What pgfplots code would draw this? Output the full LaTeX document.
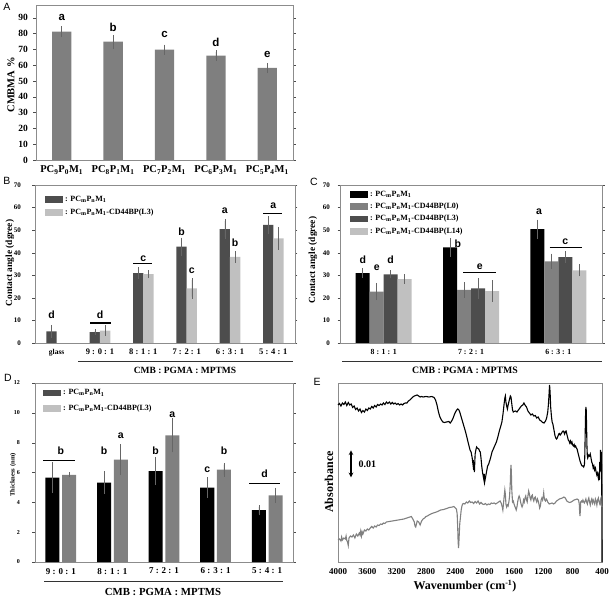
\documentclass[border=0pt]{standalone}
\usepackage{fontspec}
\setmainfont{Liberation Serif}
\newfontfamily\arial{Liberation Sans}
\usepackage{pgfplots}
\pgfplotsset{compat=1.18}

\definecolor{barA}{HTML}{7F7F7F}
\definecolor{dkg}{HTML}{4D4D4D}
\definecolor{ltg}{HTML}{C0C0C0}
\definecolor{mdg}{HTML}{808080}
\definecolor{frame}{HTML}{8C8C8C}

\newcommand{\fs}[1]{\fontsize{#1}{#1}\selectfont}
\newcommand{\pcmn}{PC\textsubscript{m}P\textsubscript{n}M\textsubscript{1}}

\pgfplotsset{
  panel/.style={
    scale only axis, anchor=south west, clip=false,
    axis line style={frame},
    ymin=0,
    tick align=outside, major tick length=2.5pt,
    ytick style={black!70},
    xtick style={draw=none},
    /pgf/number format/assume math mode=true,
    error bars/y dir=both, error bars/y explicit,
    error bars/error bar style={black!60, line width=0.6pt},
    error bars/error mark options={black!60, mark size=1.8pt, line width=0.6pt},
    legend cell align=left,
  },
  sw/.style={legend image code/.code={\fill[##1] (0pt,-3.4pt) rectangle (18pt,3.4pt);}},
}
\tikzset{
  ltr/.style={font=\arial\bfseries\fs{10.5}, anchor=base, inner sep=0pt},
  plab/.style={font=\arial\fs{10.5}, inner sep=0pt},
}

\begin{document}
\begin{tikzpicture}
\path[use as bounding box] (0pt,0pt) rectangle (612pt,599pt);

% ---------------- A: CMBMA content ----------------
\begin{axis}[panel, at={(36pt,439pt)}, width=257pt, height=155pt,
  ymax=98, ytick={0,10,...,90},
  xmin=-0.5, xmax=4.5, xtick={0,...,4},
  xticklabels={PC\textsubscript{9}P\textsubscript{0}M\textsubscript{1},
               PC\textsubscript{8}P\textsubscript{1}M\textsubscript{1},
               PC\textsubscript{7}P\textsubscript{2}M\textsubscript{1},
               PC\textsubscript{6}P\textsubscript{3}M\textsubscript{1},
               PC\textsubscript{5}P\textsubscript{4}M\textsubscript{1}},
  yticklabel style={font=\bfseries\fs{9.5}, xshift=-2pt},
  xticklabel style={font=\bfseries\fs{10.5}},
  ybar, bar width=19.3pt]
\addplot[fill=barA, draw=none] coordinates {
  (0,81.2) +- (0,2.3)
  (1,74.8) +- (0,3.2)
  (2,69.8) +- (0,2.0)
  (3,66.0) +- (0,2.2)
  (4,58.2) +- (0,2.1)
};
\node[ltr, font=\arial\bfseries\fs{11.5}] at (axis cs:0,88.0) {a};
\node[ltr, font=\arial\bfseries\fs{11.5}] at (axis cs:1,81.5) {b};
\node[ltr, font=\arial\bfseries\fs{11.5}] at (axis cs:2,77.4) {c};
\node[ltr, font=\arial\bfseries\fs{11.5}] at (axis cs:3,71.9) {d};
\node[ltr, font=\arial\bfseries\fs{11.5}] at (axis cs:4,64.8) {e};
\end{axis}

% ---------------- B: contact angle, two coatings ----------------
\begin{axis}[panel, at={(35pt,256pt)}, width=260pt, height=158pt,
  ymax=70, ytick={0,10,...,70},
  xmin=-0.5, xmax=5.5, xtick={0,...,5},
  xticklabels={{\fs{7.5}glass}, 9 : 0 : 1, 8 : 1 : 1, 7 : 2 : 1, 6 : 3 : 1, 5 : 4 : 1},
  yticklabel style={font=\bfseries\fs{7}, xshift=-8pt},
  xticklabel style={font=\bfseries\fs{8.5}},
  ybar, bar width=10.3pt,
  legend style={at={(axis description cs:0.038,0.945)}, anchor=north west,
    draw=none, fill=none, inner sep=0pt, font=\bfseries\fs{8},
    row sep=2.2pt, /tikz/every even column/.append style={column sep=1pt}}]
\addplot[fill=dkg, draw=none, bar shift=-5.15pt, sw] coordinates {
  (0,5.2) +- (0,2.0)
  (1,4.8) +- (0,0.5)
  (2,31.0) +- (0,1.8)
  (3,42.7) +- (0,3.2)
  (4,50.5) +- (0,3.5)
  (5,52.3) +- (0,3.0)
};
\addlegendentry{: \pcmn}
\addplot[fill=ltg, draw=none, bar shift=5.15pt, sw] coordinates {
  (1,5.5) +- (0,1.5)
  (2,30.5) +- (0,1.0)
  (3,24.2) +- (0,3.7)
  (4,38.2) +- (0,1.8)
  (5,46.4) +- (0,4.3)
};
\addlegendentry{: \pcmn-CD44BP(L3)}
\node[ltr] at (axis cs:-0.12,10.9) {d};
\node[ltr] at (axis cs:1,11.0) {d};
\draw[black, line width=1.2pt] (axis cs:0.77,8.9) -- (axis cs:1.25,8.9);
\node[ltr] at (axis cs:2,36.3) {c};
\draw[black, line width=1.2pt] (axis cs:1.77,35.3) -- (axis cs:2.19,35.3);
\node[ltr] at (axis cs:2.88,47.8) {b};
\node[ltr] at (axis cs:3.12,30.9) {c};
\node[ltr] at (axis cs:3.88,57.2) {a};
\node[ltr] at (axis cs:4.12,42.7) {b};
\node[ltr] at (axis cs:5,59.7) {a};
\draw[black, line width=1.2pt] (axis cs:4.77,57.5) -- (axis cs:5.19,57.5);
\end{axis}

% ---------------- C: contact angle, four coatings ----------------
\begin{axis}[panel, at={(340pt,256pt)}, width=262pt, height=158pt,
  ymax=70, ytick={0,10,...,70},
  xmin=-0.5, xmax=2.5, xtick={0,1,2},
  xticklabels={8 : 1 : 1, 7 : 2 : 1, 6 : 3 : 1},
  yticklabel style={font=\bfseries\fs{7}, xshift=-4pt},
  xticklabel style={font=\bfseries\fs{7.8}},
  ybar, bar width=14pt,
  legend style={at={(axis description cs:0.038,0.975)}, anchor=north west,
    draw=none, fill=none, inner sep=0pt, font=\bfseries\fs{8},
    row sep=1.2pt, /tikz/every even column/.append style={column sep=1pt}}]
\addplot[fill=black, draw=none, bar shift=-21pt, sw] coordinates {
  (0,31.0) +- (0,1.5)
  (1,42.4) +- (0,3.3)
  (2,50.4) +- (0,3.5)
};
\addlegendentry{: \pcmn}
\addplot[fill=mdg, draw=none, bar shift=-7pt, sw] coordinates {
  (0,22.8) +- (0,3.0)
  (1,23.5) +- (0,2.6)
  (2,36.2) +- (0,2.6)
};
\addlegendentry{: \pcmn-CD44BP(L0)}
\addplot[fill=dkg, draw=none, bar shift=7pt, sw] coordinates {
  (0,30.4) +- (0,1.0)
  (1,24.2) +- (0,3.7)
  (2,38.0) +- (0,1.8)
};
\addlegendentry{: \pcmn-CD44BP(L3)}
\addplot[fill=ltg, draw=none, bar shift=21pt, sw] coordinates {
  (0,28.3) +- (0,1.3)
  (1,23.0) +- (0,4.0)
  (2,32.2) +- (0,1.9)
};
\addlegendentry{: \pcmn-CD44BP(L14)}
\node[ltr] at (axis cs:-0.24,35.3) {d};
\node[ltr] at (axis cs:-0.08,32.3) {e};
\node[ltr] at (axis cs:0.08,35.3) {d};
\node[ltr] at (axis cs:0.85,42.5) {b};
\node[ltr] at (axis cs:1.10,32.6) {e};
\draw[black, line width=1.2pt] (axis cs:0.91,31.3) -- (axis cs:1.29,31.3);
\node[ltr] at (axis cs:1.78,57.0) {a};
\node[ltr] at (axis cs:2.08,43.8) {c};
\draw[black, line width=1.2pt] (axis cs:1.90,42.4) -- (axis cs:2.27,42.4);
\end{axis}

% ---------------- D: film thickness ----------------
\begin{axis}[panel, at={(35pt,37pt)}, width=258pt, height=179pt,
  ymax=12, ytick={0,2,...,12},
  xmin=-0.5, xmax=4.5, xtick={0,...,4},
  xticklabels={9 : 0 : 1, 8 : 1 : 1, 7 : 2 : 1, 6 : 3 : 1, 5 : 4 : 1},
  yticklabel style={font=\bfseries\fs{6}, xshift=-9pt},
  xticklabel style={font=\bfseries\fs{9}},
  ybar, bar width=14pt,
  legend style={at={(axis description cs:0.031,0.975)}, anchor=north west,
    draw=none, fill=none, inner sep=0pt, font=\bfseries\fs{8},
    row sep=4.5pt, /tikz/every even column/.append style={column sep=1pt}}]
\addlegendimage{fill=dkg, draw=none, sw}
\addlegendentry{: \pcmn}
\addlegendimage{fill=ltg, draw=none, sw}
\addlegendentry{: \pcmn-CD44BP(L3)}
\addplot[fill=black, draw=none, bar shift=-8.35pt, forget plot] coordinates {
  (0,5.66) +- (0,0.93)
  (1,5.32) +- (0,0.65)
  (2,6.10) +- (0,0.83)
  (3,4.99) +- (0,0.56)
  (4,3.47) +- (0,0.22)
};
\addplot[fill=mdg, draw=none, bar shift=8.35pt, forget plot] coordinates {
  (0,5.84) +- (0,0.05)
  (1,6.86) +- (0,0.92)
  (2,8.49) +- (0,1.02)
  (3,6.19) +- (0,0.34)
  (4,4.47) +- (0,0.38)
};
\node[ltr] at (axis cs:0,7.22) {b};
\draw[black, line width=1.2pt] (axis cs:-0.34,6.82) -- (axis cs:0.28,6.82);
\node[ltr] at (axis cs:0.838,7.22) {b};
\node[ltr] at (axis cs:1.162,8.27) {a};
\node[ltr] at (axis cs:1.838,7.22) {b};
\node[ltr] at (axis cs:2.162,9.72) {a};
\node[ltr] at (axis cs:2.838,6.03) {c};
\node[ltr] at (axis cs:3.162,7.22) {b};
\node[ltr] at (axis cs:3.95,5.66) {d};
\draw[black, line width=1.2pt] (axis cs:3.65,5.25) -- (axis cs:4.25,5.25);
\end{axis}

% ---------------- E: FTIR spectra ----------------
\begin{axis}[panel, at={(338pt,37pt)}, width=264pt, height=179pt,
  x dir=reverse, xmin=400, xmax=4000, ymin=0, ymax=179,
  xtick={400,800,...,4000}, ytick=\empty,
  xticklabel style={font=\bfseries\fs{9}},
  /pgf/number format/.cd, 1000 sep={}]
\addplot[black, line width=1.1pt, mark=none] coordinates {
(4000,157) (3980,158.5) (3960,156) (3940,159) (3920,157.5) (3900,160) (3880,156.5)
(3860,159.5) (3840,157) (3820,158) (3800,154.5) (3780,156) (3760,152.5) (3740,154)
(3720,151) (3700,153) (3680,149.5) (3660,151.5) (3640,150) (3620,153) (3600,151.5)
(3580,154) (3560,153) (3540,155.5) (3520,154) (3500,156.5) (3480,155) (3460,157.5)
(3440,156.5) (3420,158) (3400,157) (3380,159) (3360,157.5) (3340,160) (3320,158.5)
(3300,160) (3280,158) (3260,159.5) (3240,158) (3220,159) (3200,157.5) (3180,158.5)
(3160,157) (3140,158) (3120,157) (3100,158.5) (3080,159) (3060,159) (3040,161)
(3020,162) (3000,163.5) (2980,165) (2960,166) (2940,166.5) (2920,167) (2900,166)
(2880,165) (2860,165.5) (2840,165) (2800,165.5) (2760,165) (2720,165.5) (2690,164.5)
(2670,162) (2650,157) (2630,150) (2610,145) (2590,142) (2570,140) (2550,139.5)
(2520,140) (2490,140.5) (2470,139) (2450,141) (2430,144) (2410,148) (2390,151)
(2370,153) (2355,152.5) (2340,150) (2320,145) (2300,140) (2280,135) (2260,130)
(2240,124) (2220,118) (2200,112) (2185,110) (2170,104) (2160,98) (2155,102)
(2150,92) (2145,100) (2140,90) (2130,108) (2120,112) (2110,115) (2100,114)
(2080,113) (2070,111) (2060,110) (2050,104) (2040,96) (2030,90) (2020,86)
(2010,82) (2005,88) (2000,80) (1990,84) (1980,88) (1970,92) (1960,96) (1945,98)
(1920,104) (1900,110) (1870,115) (1840,120) (1820,125) (1800,131) (1780,136)
(1765,140) (1750,148) (1735,158) (1725,164) (1718,166) (1710,160) (1700,156)
(1690,153) (1680,157) (1670,160) (1660,163) (1650,166) (1641,165) (1630,158)
(1620,152) (1610,150) (1600,150.5) (1580,151) (1560,150) (1540,152) (1520,154)
(1500,156) (1480,157) (1465,159) (1450,157) (1430,155) (1410,151) (1390,149)
(1370,147) (1350,148) (1330,146) (1310,146.5) (1290,144) (1270,145) (1250,142)
(1230,141) (1210,139.5) (1190,139) (1170,141) (1155,144) (1140,150) (1130,158)
(1122,168) (1115,177) (1108,170) (1100,155) (1090,146) (1080,140) (1070,138)
(1060,134) (1050,130) (1040,126) (1030,124) (1020,123) (1010,124) (1000,126)
(990,128) (980,128.5) (970,127) (960,128) (950,129) (940,130.5) (930,131)
(920,130) (910,128) (900,130.5) (890,131) (880,128) (870,125) (860,122) (850,121)
(840,119) (830,121) (820,118.5) (810,120) (800,117) (790,116) (780,117.5)
(770,115) (760,116) (750,114) (740,113) (730,110) (720,107) (710,104) (700,101)
(690,99) (680,97) (670,96) (660,96) (650,95) (640,97) (635,105) (630,125)
(625,145) (620,155) (615,152) (610,135) (605,115) (600,106) (595,104) (590,105)
(580,107) (570,106) (560,108) (550,104) (540,100) (530,98) (520,94) (510,96)
(500,92) (490,94) (480,90) (470,87) (460,89) (450,84) (440,88) (435,82)
(430,100) (425,90) (420,112) (415,95) (410,110) (405,85) (402,60) (400,0)
};
\addplot[mdg, line width=1.1pt, mark=none] coordinates {
(4000,22) (3980,23) (3960,21) (3950,25) (3940,22) (3920,24) (3900,23) (3890,26)
(3880,21.5) (3870,20) (3860,16.5) (3850,24) (3830,26) (3810,25) (3790,27)
(3770,24) (3750,28) (3730,26) (3710,29) (3700,27) (3690,31) (3680,26) (3670,30)
(3660,28) (3640,32) (3620,31) (3600,33) (3580,32) (3560,34) (3540,35.5)
(3520,34) (3500,36) (3480,35) (3460,37) (3440,36.5) (3420,38) (3400,37.5)
(3380,39) (3360,38.5) (3340,40) (3300,40.5) (3260,41) (3220,41.5) (3180,42)
(3140,42.5) (3100,43) (3060,44) (3020,45) (3000,45.5) (2980,43) (2960,40)
(2950,36) (2940,35) (2930,38) (2920,41) (2900,40) (2880,37) (2870,39) (2860,41)
(2840,43) (2820,44) (2800,45.5) (2780,46) (2760,47) (2720,48.5) (2680,49.5)
(2640,50.5) (2600,52) (2560,52.5) (2520,53.5) (2480,54.5) (2440,55) (2420,55.5)
(2400,54) (2385,53) (2375,48) (2368,35) (2362,20) (2356,14) (2350,22) (2345,30)
(2340,38) (2330,45) (2320,52) (2310,56) (2300,58) (2290,58.5) (2270,58)
(2250,60) (2230,59) (2210,61) (2190,59.5) (2170,60) (2150,58.5) (2130,60.5)
(2110,59) (2090,61) (2070,58) (2050,59.5) (2030,58) (2010,57.5) (1990,58.5)
(1970,57) (1950,58) (1930,57.5) (1910,59) (1890,58.5) (1870,59) (1850,58)
(1830,59) (1810,60) (1790,61) (1775,59) (1760,55) (1752,52) (1745,57) (1735,65)
(1725,72) (1718,68) (1710,58) (1700,55) (1690,57) (1680,56) (1670,60) (1660,66)
(1650,80) (1645,92) (1641,97) (1636,90) (1630,72) (1620,60) (1610,61) (1600,58)
(1590,56) (1580,54) (1570,52) (1560,55) (1550,60) (1540,64) (1530,66) (1520,64)
(1510,60) (1500,57) (1490,55) (1480,57) (1470,62) (1460,60) (1450,64) (1440,66)
(1430,62) (1420,60) (1410,66) (1400,71) (1390,68) (1380,64) (1370,62) (1360,66)
(1350,67) (1340,63) (1330,61) (1320,64) (1310,65) (1300,62) (1290,60) (1280,63)
(1270,61) (1260,58) (1250,54) (1240,56) (1230,62) (1220,64) (1210,62) (1200,66)
(1195,69) (1190,65) (1180,62) (1170,61) (1160,63) (1150,62) (1140,60) (1120,58)
(1100,58.5) (1080,59) (1060,58) (1040,59) (1020,61) (1000,62) (980,63)
(960,63.5) (940,64) (920,65) (900,64) (880,61) (860,60) (840,59.5) (820,60)
(800,61) (780,62) (760,62.5) (740,63) (720,62) (710,58) (705,50) (700,46)
(695,52) (690,60) (680,61) (670,60) (660,62) (650,60) (640,59) (630,61) (620,63)
(610,60) (600,58) (590,62) (580,64) (570,60) (560,57) (550,61) (540,63) (530,59)
(520,62) (510,60) (500,58) (490,63) (480,61) (470,57) (460,62) (450,64) (440,60)
(430,58) (420,62) (410,57) (400,55)
};
% scale bar: 0.01 absorbance = 27 axis units
\draw[<->, >=stealth, line width=1.1pt] (axis cs:3823,84.7) -- (axis cs:3823,111.7);
\node[font=\bfseries\fs{10}, anchor=west, inner sep=0pt] at (axis cs:3720,98.2) {0.01};
\end{axis}

% axis titles and group labels
\node[rotate=90, font=\bfseries\fs{10.5}] at (11pt,514pt) {CMBMA \%};
\node[rotate=90, font=\bfseries\fs{9.4}] at (10pt,336pt) {Contact angle (dgree)};
\node[rotate=90, font=\bfseries\fs{9.4}] at (313pt,339pt) {Contact angle (dgree)};
\node[rotate=90, font=\bfseries\fs{6.6}] at (13pt,124pt) {Thickness (nm)};
\node[rotate=90, font=\bfseries\fs{12}] at (329pt,117pt) {Absorbance};

\draw[black!80, line width=0.6pt] (78pt,238pt) -- (293pt,238pt);
\node[font=\bfseries\fs{9.5}] at (185pt,229pt) {CMB : PGMA : MPTMS};
\draw[black!80, line width=0.6pt] (342pt,238pt) -- (602pt,238pt);
\node[font=\bfseries\fs{9.8}] at (465pt,229pt) {CMB : PGMA : MPTMS};
\draw[black!80, line width=0.6pt] (44pt,18pt) -- (283pt,18pt);
\node[font=\bfseries\fs{10.8}] at (163pt,7pt) {CMB : PGMA : MPTMS};
\node[font=\bfseries\fs{12}] at (465pt,13pt) {Wavenumber (cm\textsuperscript{-1})};

% panel letters
\node[plab] at (7pt,592pt) {A};
\node[plab] at (7pt,418pt) {B};
\node[plab] at (314pt,417pt) {C};
\node[plab] at (8pt,221pt) {D};
\node[plab] at (317pt,217pt) {E};
\end{tikzpicture}
\end{document}
